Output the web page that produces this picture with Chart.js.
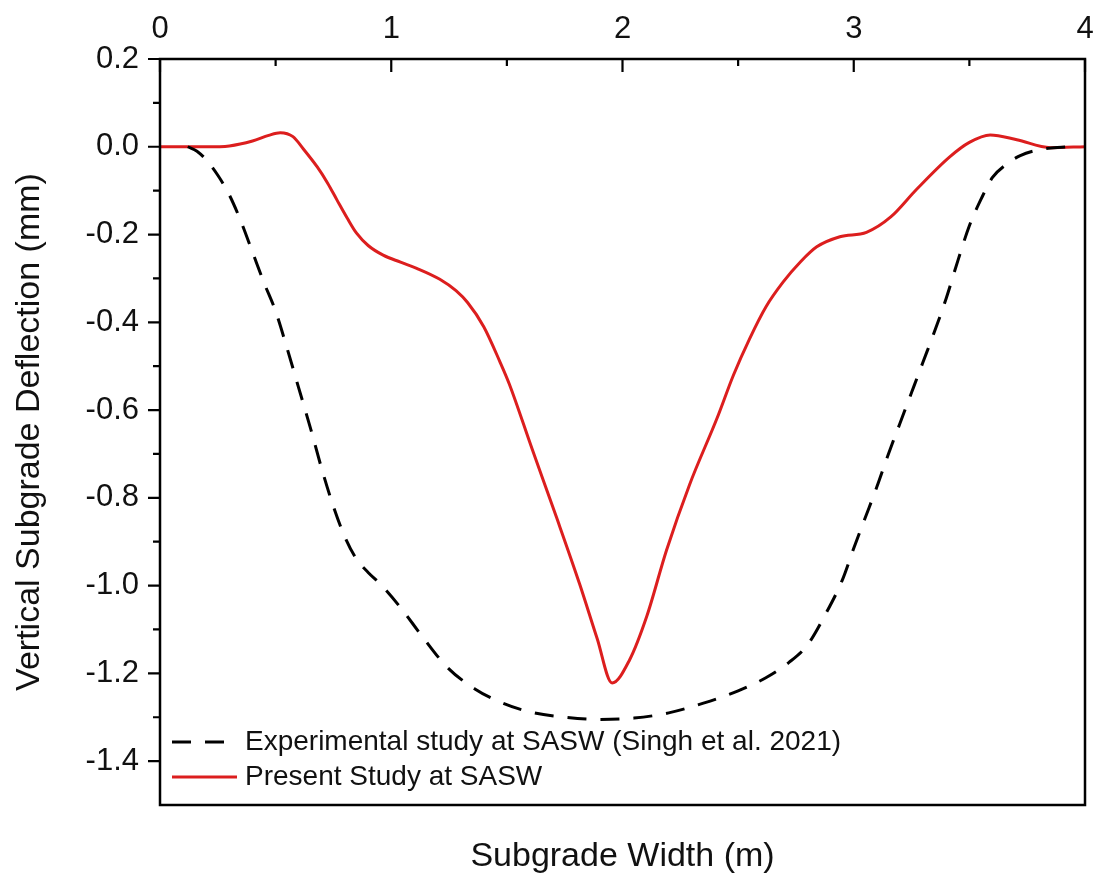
<!DOCTYPE html>
<html>
<head>
<meta charset="utf-8">
<script src="https://cdn.jsdelivr.net/npm/chart.js@4.4.1/dist/chart.umd.min.js"></script>
<style>
html,body{margin:0;padding:0;background:#fff;}
#wrap{width:1099px;height:877px;position:relative;}
</style>
</head>
<body>
<div id="wrap"><canvas id="c" width="1099" height="877"></canvas></div>
<script>
// ---- data ----
const xTickValues = [0, 1, 2, 3, 4];
const xMinorTicks = [0.5, 1.5, 2.5, 3.5];
const yTickValues = [0.2, 0.0, -0.2, -0.4, -0.6, -0.8, -1.0, -1.2, -1.4];
const yMinorTicks = [0.1, -0.1, -0.3, -0.5, -0.7, -0.9, -1.1, -1.3];

const seriesLabels = ["Experimental study at SASW (Singh et al. 2021)", "Present Study at SASW"];

const experimentalX = [0.12, 0.16, 0.20, 0.25, 0.30, 0.35, 0.40, 0.45, 0.50, 0.55, 0.60, 0.65, 0.70, 0.75, 0.80, 0.85, 0.90, 0.95, 1.04, 1.14, 1.24, 1.36, 1.47, 1.60, 1.75, 1.90, 2.05, 2.20, 2.35, 2.50, 2.62, 2.72, 2.80, 2.875, 2.95, 3.00, 3.05, 3.10, 3.15, 3.20, 3.25, 3.30, 3.35, 3.40, 3.45, 3.50, 3.55, 3.60, 3.66, 3.72, 3.80, 3.92];
const experimentalY = [0.0, -0.01, -0.03, -0.065, -0.11, -0.17, -0.24, -0.31, -0.375, -0.46, -0.55, -0.64, -0.735, -0.82, -0.89, -0.94, -0.97, -0.995, -1.05, -1.12, -1.185, -1.235, -1.265, -1.288, -1.300, -1.305, -1.302, -1.29, -1.268, -1.24, -1.21, -1.175, -1.135, -1.068, -0.988, -0.915, -0.845, -0.775, -0.70, -0.63, -0.56, -0.49, -0.42, -0.345, -0.26, -0.18, -0.12, -0.07, -0.04, -0.02, -0.007, 0.0];

const presentX = [0.00, 0.10, 0.20, 0.30, 0.40, 0.47, 0.52, 0.575, 0.62, 0.68, 0.725, 0.765, 0.81, 0.85, 0.90, 0.965, 1.04, 1.11, 1.21, 1.28, 1.33, 1.40, 1.47, 1.51, 1.61, 1.715, 1.815, 1.89, 1.955, 2.03, 2.105, 2.19, 2.29, 2.41, 2.48, 2.55, 2.62, 2.695, 2.77, 2.84, 2.94, 3.055, 3.16, 3.27, 3.415, 3.50, 3.59, 3.705, 3.85, 4.00];
const presentY = [0.0, 0.0, 0.0, 0.002, 0.013, 0.026, 0.032, 0.023, -0.005, -0.046, -0.083, -0.121, -0.163, -0.197, -0.225, -0.247, -0.263, -0.277, -0.302, -0.328, -0.355, -0.41, -0.49, -0.54, -0.69, -0.845, -0.997, -1.12, -1.222, -1.17, -1.07, -0.92, -0.77, -0.617, -0.52, -0.437, -0.365, -0.308, -0.262, -0.228, -0.205, -0.195, -0.16, -0.098, -0.023, 0.01, 0.027, 0.016, -0.002, 0.0];

// ---- styles ----
const FONT = "'Liberation Sans', Arial, sans-serif";
const RED = '#dc1e1e';
const BLACK = '#000000';
const DASH = [19, 14];

const toPoints = (xs, ys) => xs.map((x, i) => ({x: x, y: ys[i]}));

const frameTicksPlugin = {
  id: 'frameTicks',
  afterDraw(chart) {
    const ctx = chart.ctx;
    const a = chart.chartArea;
    const xs = chart.scales.x, ys = chart.scales.y;
    ctx.save();
    ctx.strokeStyle = '#000';
    ctx.lineWidth = 2.5;
    ctx.strokeRect(a.left, a.top, a.right - a.left, a.bottom - a.top);
    ctx.lineWidth = 2.2;
    ctx.beginPath();
    yTickValues.forEach(v => { const p = ys.getPixelForValue(v); ctx.moveTo(a.left - 12, p); ctx.lineTo(a.left, p); });
    yMinorTicks.forEach(v => { const p = ys.getPixelForValue(v); ctx.moveTo(a.left - 7, p); ctx.lineTo(a.left, p); });
    xTickValues.forEach(v => { const p = xs.getPixelForValue(v); ctx.moveTo(p, a.top); ctx.lineTo(p, a.top + 13); });
    xMinorTicks.forEach(v => { const p = xs.getPixelForValue(v); ctx.moveTo(p, a.top); ctx.lineTo(p, a.top + 7); });
    ctx.stroke();
    ctx.restore();
  }
};

const legendPlugin = {
  id: 'insideLegend',
  afterDraw(chart) {
    const ctx = chart.ctx;
    const a = chart.chartArea;
    const x0 = a.left + 12, x1 = a.left + 77, tx = a.left + 85;
    const rows = [a.bottom - 63, a.bottom - 28];
    ctx.save();
    chart.data.datasets.forEach((ds, i) => {
      const y = rows[i];
      ctx.strokeStyle = ds.borderColor;
      ctx.lineWidth = ds.borderWidth;
      ctx.setLineDash(ds.borderDash || []);
      ctx.beginPath(); ctx.moveTo(x0, y); ctx.lineTo(x1, y); ctx.stroke();
      ctx.setLineDash([]);
      ctx.fillStyle = '#111';
      ctx.font = '28px ' + FONT;
      ctx.textBaseline = 'middle';
      ctx.textAlign = 'left';
      ctx.fillText(ds.label, tx, y);
    });
    ctx.restore();
  }
};

new Chart(document.getElementById('c'), {
  type: 'line',
  data: {
    datasets: [
      {
        label: seriesLabels[0],
        data: toPoints(experimentalX, experimentalY),
        borderColor: BLACK,
        borderWidth: 3,
        borderDash: DASH,
        pointRadius: 0,
        fill: false,
        cubicInterpolationMode: 'monotone'
      },
      {
        label: seriesLabels[1],
        data: toPoints(presentX, presentY),
        borderColor: RED,
        borderWidth: 3,
        pointRadius: 0,
        fill: false,
        cubicInterpolationMode: 'monotone'
      }
    ]
  },
  options: {
    responsive: false,
    animation: false,
    devicePixelRatio: 1,
    layout: {padding: {left: 0, right: 14, top: 0, bottom: 0}},
    plugins: {legend: {display: false}, tooltip: {enabled: false}},
    scales: {
      x: {
        type: 'linear', position: 'top', min: 0, max: 4,
        afterBuildTicks: s => { s.ticks = xTickValues.map(v => ({value: v})); },
        afterFit: s => { s.height = 59; },
        grid: {display: false}, border: {display: false},
        ticks: {color: '#111', font: {family: FONT, size: 31}, padding: 3, maxRotation: 0,
                callback: v => String(v)}
      },
      xb: {
        type: 'linear', position: 'bottom', min: 0, max: 4,
        afterFit: s => { s.height = 72; },
        grid: {display: false}, border: {display: false},
        ticks: {display: false},
        title: {display: true, text: 'Subgrade Width (m)', color: '#111',
                font: {family: FONT, size: 34}, padding: {top: 0, bottom: 0}}
      },
      y: {
        type: 'linear', position: 'left', min: -1.5, max: 0.2,
        afterBuildTicks: s => { s.ticks = yTickValues.map(v => ({value: v})); },
        afterFit: s => { s.width = 160; },
        grid: {display: false}, border: {display: false},
        ticks: {color: '#111', font: {family: FONT, size: 31}, padding: 13,
                callback: v => Number(v).toFixed(1)},
        title: {display: true, text: 'Vertical Subgrade Deflection (mm)', color: '#111',
                font: {family: FONT, size: 34}, padding: {top: 9, bottom: 0}}
      }
    }
  },
  plugins: [frameTicksPlugin, legendPlugin]
});
</script>
</body>
</html>
